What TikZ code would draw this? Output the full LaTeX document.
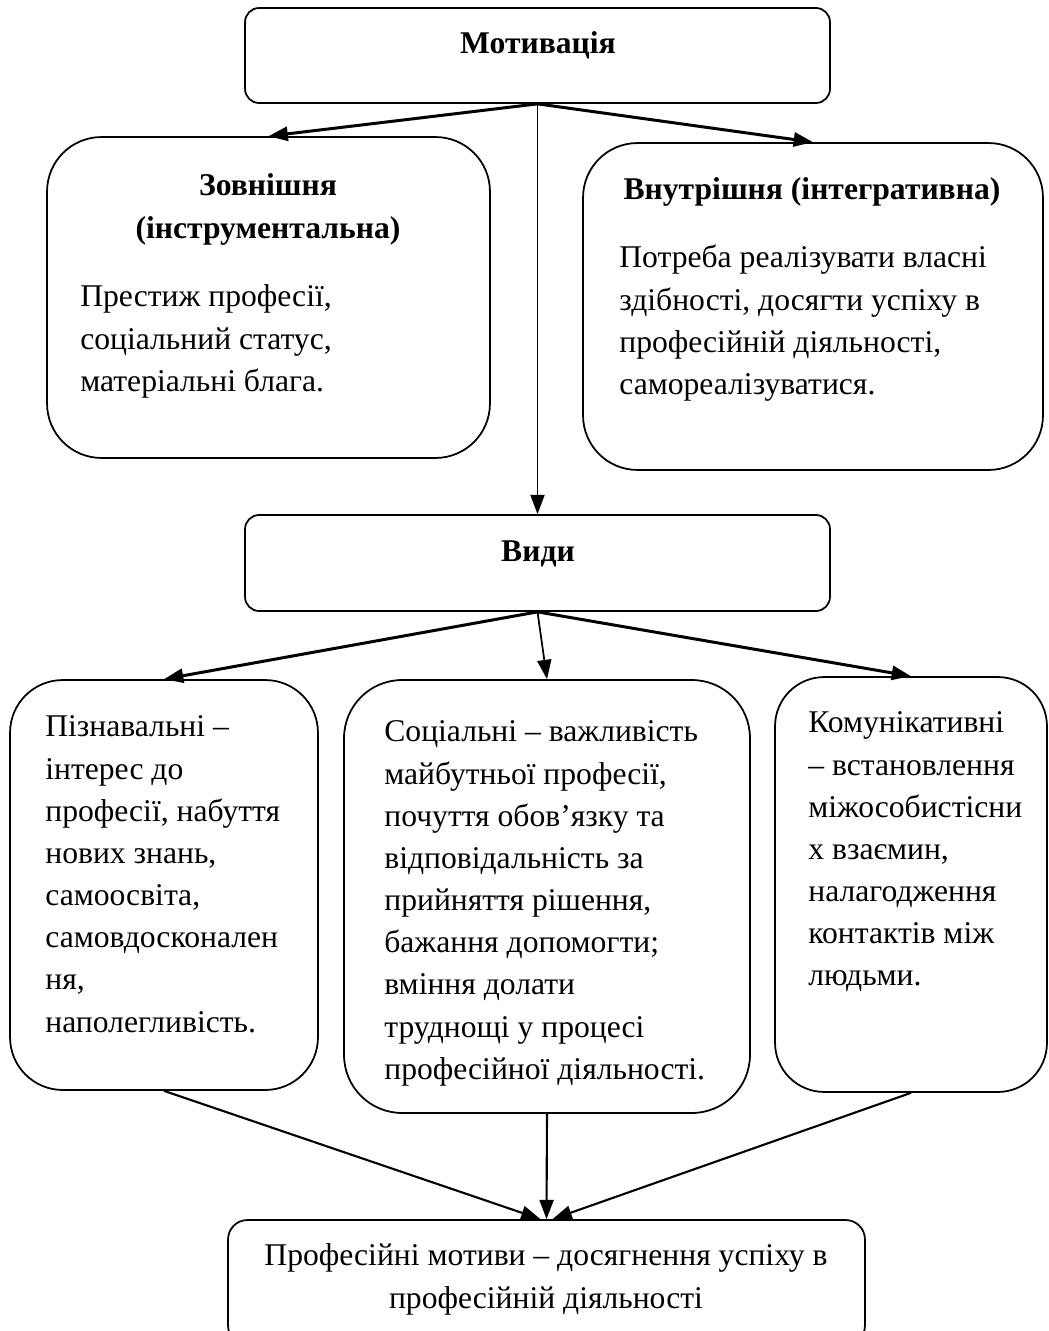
\documentclass[tikz,border=0pt]{standalone}
\usepackage{fontspec}
\setmainfont{Liberation Serif}
\usetikzlibrary{arrows.meta,positioning}

\newcommand{\bodyfont}{\fontsize{18}{24}\selectfont}

\begin{document}
\begin{tikzpicture}[x=0.02cm, y=-0.02cm,
    box/.style={draw, line width=1pt, inner sep=0pt, rounded corners=#1},
    box/.default=8pt,
    txt/.style={inner sep=0pt, anchor=north west, align=left, font=\bodyfont},
    head/.style={inner sep=0pt, anchor=north, align=center, font=\bodyfont\bfseries},
    arr/.style={-{Triangle[length=11pt,width=8pt]}, line width=1.7pt},
    thinarr/.style={arr, line width=1pt}]
    \useasboundingbox (0,0) rectangle (1048,1331);
    \clip (0,0) rectangle (1048,1331);

    % boxes
    \node[box, minimum width=11.7cm, minimum height=1.9cm] (mot) at (537.5,55.5) {};
    \node[box=31pt, minimum width=8.86cm, minimum height=6.42cm] (zov) at (268.5,297.5) {};
    \node[box=31pt, minimum width=9.2cm, minimum height=6.54cm] (vn) at (813,306.5) {};
    \node[box, minimum width=11.7cm, minimum height=1.92cm] (vydy) at (537.5,563) {};
    \node[box=30pt, minimum width=6.16cm, minimum height=8.2cm] (piz) at (164,885) {};
    \node[box=33pt, minimum width=8.12cm, minimum height=8.66cm] (soc) at (547,896.5) {};
    \node[box=28pt, minimum width=5.44cm, minimum height=8.3cm] (kom) at (911,884.5) {};
    \node[box=11pt, minimum width=12.74cm, minimum height=2.5cm] (res) at (546.5,1282.5) {};

    % texts
    \node[head] (motT) at (538,24) {\strut Мотивація};
    \node[head] (zovT) at (268,166) {\strut Зовнішня\\(інструментальна)};
    \node[txt] (zovB) at (80,277) {\strut Престиж професії,\\соціальний статус,\\матеріальні блага.};
    \node[head] (vnT) at (812,170) {\strut Внутрішня (інтегративна)};
    \node[txt] (vnB) at (619,238) {\strut Потреба реалізувати власні\\здібності, досягти успіху в\\професійній діяльності,\\самореалізуватися.};
    \node[head] (vydyT) at (538,532) {\strut Види};
    \node[txt] (pizB) at (45,707) {\strut Пізнавальні –\\інтерес до\\професії, набуття\\нових знань,\\самоосвіта,\\самовдосконален\\ня,\\наполегливість.};
    \node[txt] (socB) at (384,712) {\strut Соціальні – важливість\\майбутньої професії,\\почуття обов’язку та\\відповідальність за\\прийняття рішення,\\бажання допомогти;\\вміння долати\\труднощі у процесі\\професійної діяльності.};
    \node[txt] (komB) at (808,703) {\strut Комунікативні\\– встановлення\\міжособистісни\\х взаємин,\\налагодження\\контактів між\\людьми.};
    \node[head, font=\bodyfont] (resT) at (546,1236) {\strut Професійні мотиви – досягнення успіху в\\професійній діяльності};

    % arrows
    \draw[arr] (mot.south) -- (zov.north);
    \draw[arr] (mot.south) -- (vn.north);
    \draw[thinarr] (mot.south) -- (vydy.north);
    \draw[arr] (vydy.south) -- (piz.north);
    \draw[thinarr] (vydy.south) -- (soc.north);
    \draw[arr] (vydy.south) -- (kom.north);
    \draw[arr, line width=1.2pt] (piz.south) -- ([xshift=-0.12cm]res.north);
    \draw[arr, line width=1.2pt] (soc.south) -- (res.north);
    \draw[arr, line width=1.2pt] (kom.south) -- ([xshift=0.12cm]res.north);
\end{tikzpicture}
\end{document}
